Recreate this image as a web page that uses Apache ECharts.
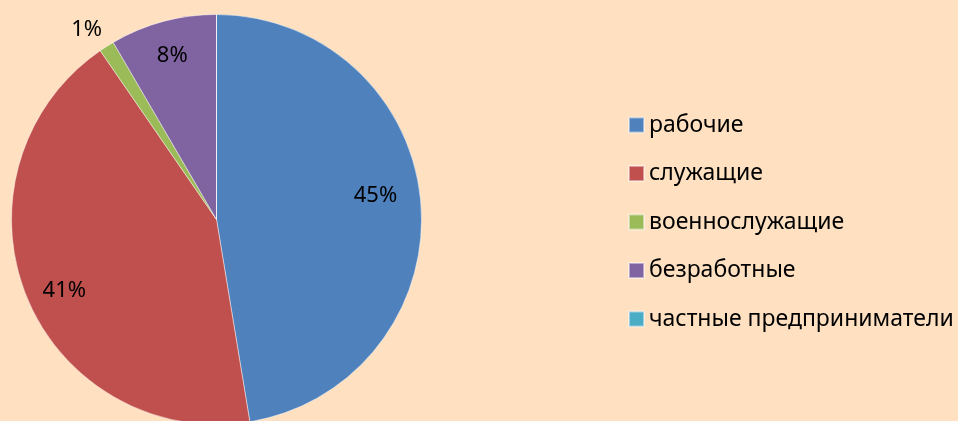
<!DOCTYPE html>
<html>
<head>
<meta charset="utf-8">
<script src="https://cdn.jsdelivr.net/npm/echarts@6/dist/echarts.min.js"></script>
<style>
  html, body { margin: 0; padding: 0; background: #ffe1c1; }
  #chart { width: 958px; height: 421px; }
</style>
</head>
<body>
<div id="chart"></div>
<script>
// доли секторов, как они нарисованы на картинке (в процентах круга)
const categories = ["рабочие", "служащие", "военнослужащие", "безработные", "частные предприниматели"];
const sliceValues = [47.4, 43.0, 1.2, 8.4, 0];
// подписи, которые стоят на картинке
const labelTexts = ["45%", "41%", "1%", "8%", ""];

const colors = ["#4f81bd", "#c0504d", "#9bbb59", "#8064a2", "#4bacc6"];
// небольшие сдвиги подписей относительно середины сектора
const labelNudge = [[-10, -10], [5, 8], [10, -1], [0, 0], [0, 0]];

const FONT = "'Noto Sans', 'DejaVu Sans', sans-serif";
const CENTER = [216.5, 219.5];
const R = 205;

const chart = echarts.init(document.getElementById("chart"), null, { renderer: "canvas" });

const pieData = categories.map((name, i) => ({
  name,
  value: sliceValues[i],
  itemStyle: { color: colors[i] },
}));

// вторая, прозрачная «кольцевая» серия только для подписей — так они ложатся на ~0.8 радиуса
const labelData = categories.map((name, i) => {
  const outside = i === 2;
  return {
    name,
    value: sliceValues[i],
    label: {
      show: labelTexts[i] !== "",
      position: outside ? "outside" : "inside",
      formatter: labelTexts[i],
      offset: labelNudge[i],
    },
    labelLine: { show: false, length: 18, length2: 0 },
  };
});

chart.setOption({
  backgroundColor: "#ffe1c1",
  animation: false,
  color: colors,
  legend: {
    orient: "vertical",
    left: 623,
    top: 106,
    icon: "rect",
    itemWidth: 15,
    itemHeight: 15,
    itemGap: 20.5,
    data: categories,
    textStyle: { fontFamily: FONT, fontSize: 23, color: "#000", lineHeight: 28 },
  },
  series: [
    {
      type: "pie",
      center: CENTER,
      radius: [0, R],
      startAngle: 90,
      clockwise: true,
      silent: true,
      label: { show: false },
      labelLine: { show: false },
      itemStyle: { borderColor: "rgba(255,255,255,0.45)", borderWidth: 1 },
      data: pieData,
    },
    {
      type: "pie",
      center: CENTER,
      radius: [128, R],
      startAngle: 90,
      clockwise: true,
      silent: true,
      legendHoverLink: false,
      itemStyle: { color: "transparent", borderWidth: 0 },
      label: { fontFamily: FONT, fontSize: 22, color: "#000" },
      data: labelData,
    },
  ],
});
</script>
</body>
</html>
